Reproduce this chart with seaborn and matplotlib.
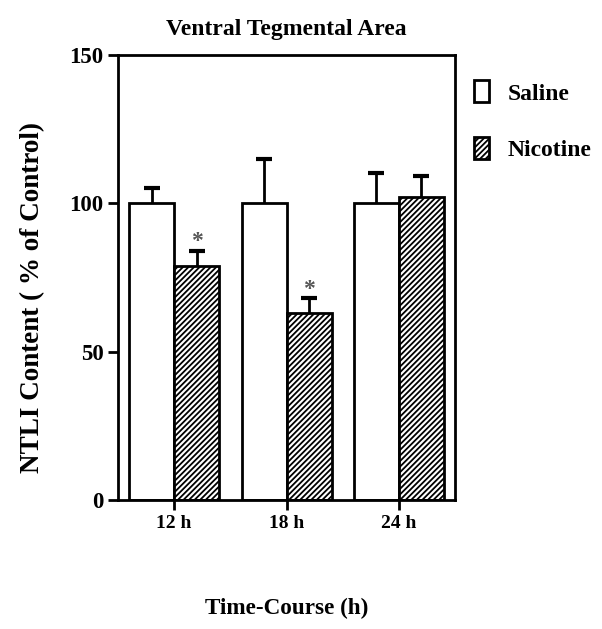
import numpy as np
import pandas as pd
import seaborn as sns
import matplotlib.pyplot as plt
from matplotlib.patches import Patch

# datos
tiempos = ["12 h", "18 h", "24 h"]
grupos = ["Saline", "Nicotine"]
saline = [100, 100, 100]
saline_err = [5, 15, 10]
nicotine = [79, 63, 102]
nicotine_err = [5, 5, 7]
significativo = [True, True, False]

datos = pd.DataFrame({
    "tiempo": tiempos * 2,
    "grupo": ["Saline"] * 3 + ["Nicotine"] * 3,
    "valor": saline + nicotine,
})

sns.set_style("ticks")
plt.rcParams["font.family"] = ["Liberation Serif", "DejaVu Serif"]
plt.rcParams["font.weight"] = "bold"
plt.rcParams["hatch.linewidth"] = 1.3
plt.rcParams["text.color"] = "black"
plt.rcParams["axes.labelcolor"] = "black"
plt.rcParams["xtick.color"] = "black"
plt.rcParams["ytick.color"] = "black"
plt.rcParams["axes.edgecolor"] = "black"

fig = plt.figure(figsize=(6.02, 6.29), dpi=100)
ax = fig.add_axes([0.196, 0.205, 0.56, 0.708])

sns.barplot(data=datos, x="tiempo", y="valor", hue="grupo", order=tiempos,
            hue_order=grupos, palette=["white", "white"], edgecolor="black",
            linewidth=2, errorbar=None, width=0.8, ax=ax, legend=False)

barras = ax.patches
for b in barras[3:6]:
    b.set_hatch("//////")

# barras de error solo hacia arriba
errores = saline_err + nicotine_err
for b, e in zip(barras[:6], errores):
    cx = b.get_x() + b.get_width() / 2
    h = b.get_height()
    ax.plot([cx, cx], [h, h + e], color="black", lw=2, zorder=0.5)
    ax.plot([cx], [h + e], marker="_", markersize=12, mew=3, color="black",
            zorder=0.5)

for j, b in enumerate(barras[3:6]):
    if significativo[j]:
        cx = b.get_x() + b.get_width() / 2
        ax.text(cx, b.get_height() + nicotine_err[j] + 3, "*", ha="center",
                va="center", fontsize=17, color="#555555")

ax.set_ylim(0, 150)
ax.set_xlim(-0.5, 2.5)
ax.set_yticks([0, 50, 100, 150])
for s in ax.spines.values():
    s.set_linewidth(2)
ax.tick_params(axis="both", width=2, length=7)
ax.tick_params(axis="x", labelsize=14)
ax.tick_params(axis="y", labelsize=16.5)
for t in ax.get_xticklabels() + ax.get_yticklabels():
    t.set_fontweight("bold")

ax.set_title("Ventral Tegmental Area", fontsize=17, fontweight="bold", pad=14)
ax.set_xlabel("Time-Course (h)", fontsize=16.7, fontweight="bold", labelpad=48)
ax.set_ylabel("NTLI Content ( % of Control)", fontsize=19.5, fontweight="bold")
ax.yaxis.set_label_coords(-0.215, 0.455)

# leyenda fuera del area
manejadores = [Patch(facecolor="white", edgecolor="black", linewidth=2),
               Patch(facecolor="white", edgecolor="black", linewidth=2, hatch="//////")]
ax.legend(manejadores, grupos, loc="upper left", bbox_to_anchor=(0.993, 0.99),
          frameon=False, fontsize=17, handlelength=0.64, handleheight=1.06,
          labelspacing=1.37, handletextpad=0.8)

fig.savefig("out.png", dpi=100)
